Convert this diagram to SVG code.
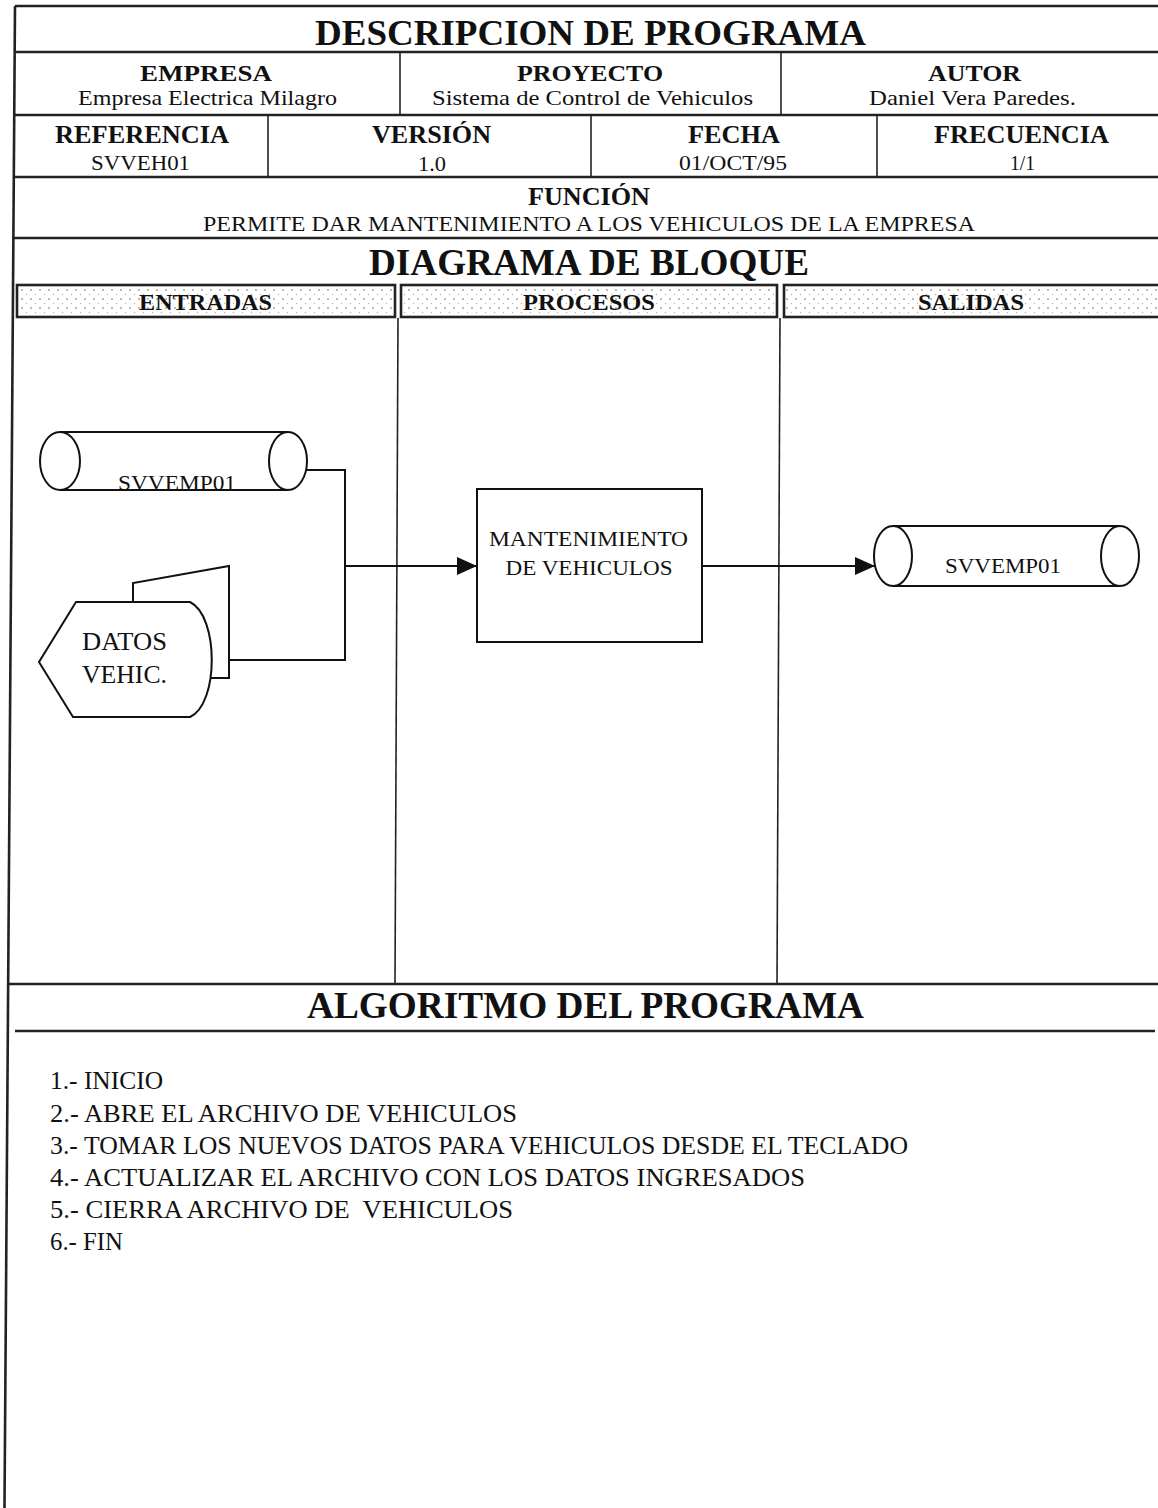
<svg xmlns="http://www.w3.org/2000/svg" width="1158" height="1508" viewBox="0 0 1158 1508">
<defs>
<style>
.t{font-family:"Liberation Serif","Times New Roman",serif;fill:#111}
.b{font-weight:bold}
.c{text-anchor:middle}
.hl{stroke:#222;stroke-width:2.6;fill:none}
.vl{stroke:#222;stroke-width:1.6;fill:none}
.sh{stroke:#111;stroke-width:2;fill:#fff}
.cn{stroke:#111;stroke-width:2;fill:none}
.hb{stroke:#222;stroke-width:2.6;fill:url(#dots)}
</style>
<pattern id="dots" width="9" height="9" patternUnits="userSpaceOnUse" x="2" y="287">
<circle cx="2" cy="3" r="0.9" fill="#9a9a9a"/>
<circle cx="6.5" cy="7.5" r="0.7" fill="#b5b5b5"/>
</pattern>
<marker id="arr" viewBox="0 0 20 18" refX="20" refY="9" markerWidth="20" markerHeight="18" markerUnits="userSpaceOnUse" orient="auto">
<path d="M0,0 L20,9 L0,18 Z" fill="#111"/>
</marker>
</defs>
<rect width="1158" height="1508" fill="#fff"/>

<g id="frame">
<line class="hl" x1="15" y1="6" x2="4.5" y2="1508" stroke-width="3"/>
<line class="hl" x1="15" y1="6" x2="1158" y2="6" stroke-width="3"/>
<line class="hl" x1="14.7" y1="52" x2="1158" y2="52"/>
<line class="hl" x1="14.2" y1="115" x2="1158" y2="115"/>
<line class="hl" x1="13.8" y1="177" x2="1158" y2="177"/>
<line class="hl" x1="13.4" y1="238" x2="1158" y2="238"/>
<line class="vl" x1="400" y1="52" x2="400" y2="115"/>
<line class="vl" x1="781" y1="52" x2="781" y2="115"/>
<line class="vl" x1="268" y1="115" x2="268" y2="177"/>
<line class="vl" x1="591" y1="115" x2="591" y2="177"/>
<line class="vl" x1="877" y1="115" x2="877" y2="177"/>
<rect class="hb" x="17" y="285" width="378" height="32"/>
<rect class="hb" x="401" y="285" width="376" height="32"/>
<rect class="hb" x="784" y="285" width="380" height="32"/>
<line class="vl" x1="398" y1="318" x2="395" y2="984"/>
<line class="vl" x1="780" y1="318" x2="777" y2="984"/>
<line class="hl" x1="8.2" y1="984" x2="1158" y2="984"/>
<line class="hl" x1="15" y1="1031" x2="1155" y2="1031"/>
</g>

<g id="header-text">
<text class="t b c" x="590.5" y="45" font-size="36" textLength="551" lengthAdjust="spacingAndGlyphs">DESCRIPCION DE PROGRAMA</text>
<text class="t b c" x="206" y="81" font-size="24" textLength="132" lengthAdjust="spacingAndGlyphs">EMPRESA</text>
<text class="t c" x="207.5" y="105" font-size="21" textLength="259" lengthAdjust="spacingAndGlyphs">Empresa Electrica Milagro</text>
<text class="t b c" x="590" y="81" font-size="24" textLength="146" lengthAdjust="spacingAndGlyphs">PROYECTO</text>
<text class="t c" x="592.5" y="105" font-size="21" textLength="321" lengthAdjust="spacingAndGlyphs">Sistema de Control de Vehiculos</text>
<text class="t b c" x="974.5" y="81" font-size="24" textLength="93" lengthAdjust="spacingAndGlyphs">AUTOR</text>
<text class="t c" x="972.5" y="105" font-size="21" textLength="207" lengthAdjust="spacingAndGlyphs">Daniel Vera Paredes.</text>
<text class="t b c" x="142" y="143" font-size="25" textLength="174" lengthAdjust="spacingAndGlyphs">REFERENCIA</text>
<text class="t c" x="140.5" y="170" font-size="21" textLength="99" lengthAdjust="spacingAndGlyphs">SVVEH01</text>
<text class="t b c" x="431.5" y="143" font-size="25" textLength="119" lengthAdjust="spacingAndGlyphs">VERSIÓN</text>
<text class="t c" x="432" y="171" font-size="21" textLength="28" lengthAdjust="spacingAndGlyphs">1.0</text>
<text class="t b c" x="734" y="143" font-size="25" textLength="92" lengthAdjust="spacingAndGlyphs">FECHA</text>
<text class="t c" x="733" y="170" font-size="21" textLength="108" lengthAdjust="spacingAndGlyphs">01/OCT/95</text>
<text class="t b c" x="1021.5" y="143" font-size="25" textLength="175" lengthAdjust="spacingAndGlyphs">FRECUENCIA</text>
<text class="t c" x="1022.5" y="170" font-size="21" textLength="25" lengthAdjust="spacingAndGlyphs">1/1</text>
<text class="t b c" x="589" y="205" font-size="25" textLength="122" lengthAdjust="spacingAndGlyphs">FUNCIÓN</text>
<text class="t c" x="589" y="231" font-size="21" textLength="772" lengthAdjust="spacingAndGlyphs">PERMITE DAR MANTENIMIENTO A LOS VEHICULOS DE LA EMPRESA</text>
<text class="t b c" x="589" y="275" font-size="37" textLength="440" lengthAdjust="spacingAndGlyphs">DIAGRAMA DE BLOQUE</text>
<text class="t b c" x="205.5" y="310" font-size="23" textLength="133" lengthAdjust="spacingAndGlyphs">ENTRADAS</text>
<text class="t b c" x="589" y="310" font-size="23" textLength="132" lengthAdjust="spacingAndGlyphs">PROCESOS</text>
<text class="t b c" x="971" y="310" font-size="23" textLength="106" lengthAdjust="spacingAndGlyphs">SALIDAS</text>
<text class="t b c" x="585.5" y="1018" font-size="37" textLength="557" lengthAdjust="spacingAndGlyphs">ALGORITMO DEL PROGRAMA</text>
</g>

<g id="connectors">
<polyline class="cn" points="307,470 345,470 345,660 229,660"/>
<line class="cn" x1="345" y1="566" x2="477" y2="566" marker-end="url(#arr)"/>
<line class="cn" x1="702" y1="566" x2="875" y2="566" marker-end="url(#arr)"/>
</g>

<g id="node-svvemp01-in">
<path d="M60,432 L288,432 L288,490 L60,490 Z" fill="#fff"/>
<line class="cn" x1="60" y1="432" x2="288" y2="432"/>
<line class="cn" x1="60" y1="490" x2="288" y2="490"/>
<ellipse class="sh" cx="60" cy="461" rx="20" ry="29"/>
<ellipse class="sh" cx="288" cy="461" rx="19" ry="29"/>
<text class="t c" x="177" y="490" font-size="22" textLength="118" lengthAdjust="spacingAndGlyphs">SVVEMP01</text>
</g>

<g id="node-datos-vehic">
<path class="sh" d="M133,602 L133,583 L229,566 L229,678 L205,678"/>
<path class="sh" d="M76,602 L190,602 C219,616 219,704 190,717 L73,717 L39,662 Z"/>
<text class="t" x="82" y="650" font-size="25" textLength="85" lengthAdjust="spacingAndGlyphs">DATOS</text>
<text class="t" x="82" y="683" font-size="25" textLength="85" lengthAdjust="spacingAndGlyphs">VEHIC.</text>
</g>

<g id="node-mantenimiento">
<rect class="sh" x="477" y="489" width="225" height="153"/>
<text class="t c" x="588.5" y="546" font-size="22" textLength="199" lengthAdjust="spacingAndGlyphs">MANTENIMIENTO</text>
<text class="t c" x="589" y="575" font-size="22" textLength="167" lengthAdjust="spacingAndGlyphs">DE VEHICULOS</text>
</g>

<g id="node-svvemp01-out">
<line class="cn" x1="893" y1="526" x2="1120" y2="526"/>
<line class="cn" x1="893" y1="586" x2="1120" y2="586"/>
<ellipse class="sh" cx="893" cy="556" rx="19" ry="30"/>
<ellipse class="sh" cx="1120" cy="556" rx="19" ry="30"/>
<text class="t c" x="1003" y="573" font-size="22" textLength="116" lengthAdjust="spacingAndGlyphs">SVVEMP01</text>
</g>

<g id="algorithm">
<text class="t" x="50" y="1089" font-size="26" textLength="113" lengthAdjust="spacingAndGlyphs">1.- INICIO</text>
<text class="t" x="50" y="1122" font-size="26" textLength="467" lengthAdjust="spacingAndGlyphs">2.- ABRE EL ARCHIVO DE VEHICULOS</text>
<text class="t" x="50" y="1154" font-size="26" textLength="858" lengthAdjust="spacingAndGlyphs">3.- TOMAR LOS NUEVOS DATOS PARA VEHICULOS DESDE EL TECLADO</text>
<text class="t" x="50" y="1186" font-size="26" textLength="755" lengthAdjust="spacingAndGlyphs">4.- ACTUALIZAR EL ARCHIVO CON LOS DATOS INGRESADOS</text>
<text class="t" x="50" y="1218" font-size="26" textLength="463" lengthAdjust="spacingAndGlyphs" xml:space="preserve">5.- CIERRA ARCHIVO DE  VEHICULOS</text>
<text class="t" x="50" y="1250" font-size="26" textLength="73" lengthAdjust="spacingAndGlyphs">6.- FIN</text>
</g>
</svg>
